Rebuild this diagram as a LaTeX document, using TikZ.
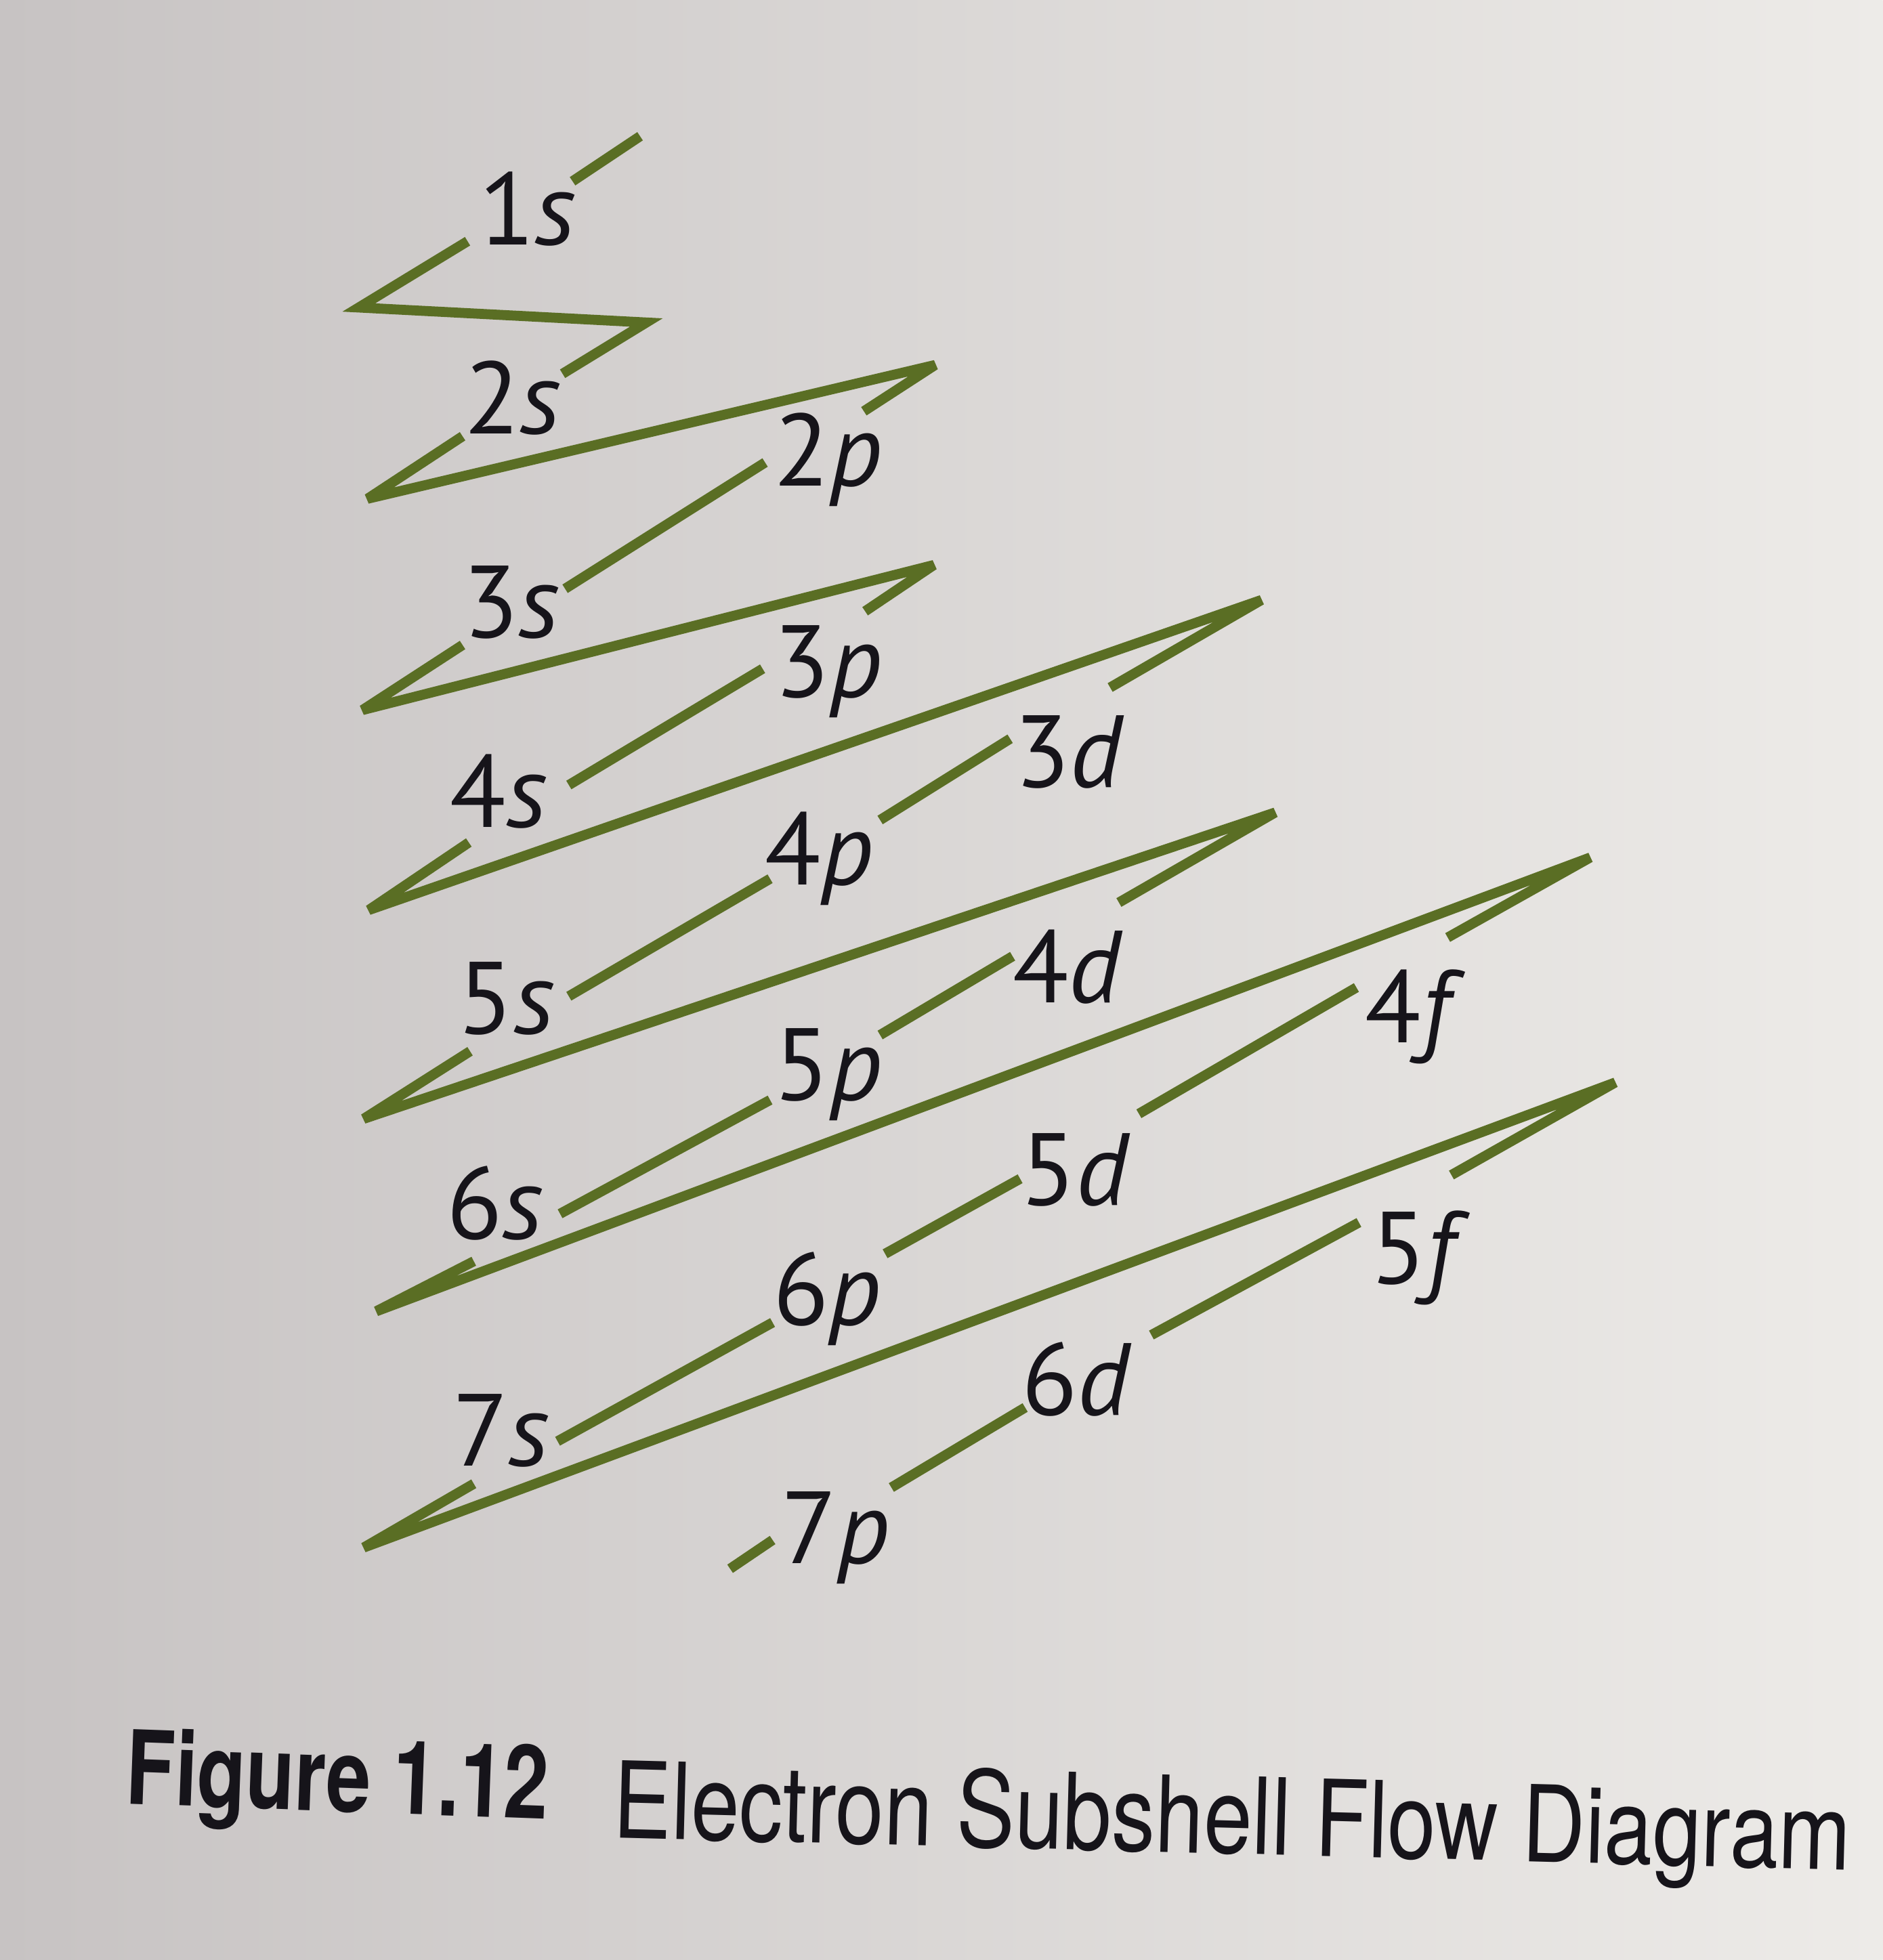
\documentclass[tikz,border=0pt]{standalone}
\usepackage{fontspec}
\setmainfont{PT Sans}
\newfontfamily\capfont{TeX Gyre Heros}
\definecolor{strokegreen}{RGB}{90,110,36}
\definecolor{paperL}{RGB}{199,195,195}
\definecolor{paperR}{RGB}{237,235,232}
\definecolor{ink}{RGB}{22,20,26}
\begin{document}
\begin{tikzpicture}[x=1pt,y=-1pt,
  flow/.style={draw=strokegreen, line width=8pt, line cap=butt, line join=miter, miter limit=4},
  sub/.style={font=\fontsize{82}{90}\selectfont, text=ink, inner sep=0pt, anchor=base west},
  capbold/.style={font=\capfont\bfseries\fontsize{82}{90}\selectfont, text=ink, inner sep=0pt, anchor=base west},
  capreg/.style={font=\capfont\fontsize{85}{90}\selectfont, text=ink, inner sep=0pt, anchor=base west}]
\useasboundingbox (0,0) rectangle (1506,1568);
\shade[left color=paperL,right color=paperR] (0,0) rectangle (1506,1568);

% subshell labels
\node[sub] (s1) at (383,196) {1\textit{s}};
\node[sub] (s2) at (371,347) {2\textit{s}};
\node[sub] (p2) at (619,389) {2\textit{p}};
\node[sub] (s3) at (370,510) {3\textit{s}};
\node[sub] (p3) at (619,558) {3\textit{p}};
\node[sub] (s4) at (360,662) {4\textit{s}};
\node[sub] (d3) at (811,630) {3\textit{d}};
\node[sub] (p4) at (612,708) {4\textit{p}};
\node[sub] (s5) at (366,827) {5\textit{s}};
\node[sub] (d4) at (810,802) {4\textit{d}};
\node[sub] (p5) at (619,880) {5\textit{p}};
\node[sub] (s6) at (357,991) {6\textit{s}};
\node[sub] (f4) at (1092,834) {4\textit{f}};
\node[sub] (d5) at (816,964) {5\textit{d}};
\node[sub] (p6) at (618,1060) {6\textit{p}};
\node[sub] (s7) at (362,1173) {7\textit{s}};
\node[sub] (f5) at (1096,1027) {5\textit{f}};
\node[sub] (d6) at (817,1132) {6\textit{d}};
\node[sub] (p7) at (625,1251) {7\textit{p}};

% path vertices
\coordinate (p1a) at (512,109);  \coordinate (p1b) at (458,145);
\coordinate (p2a) at (374,193);  \coordinate (L1) at (287,246);  \coordinate (R2) at (517,258);  \coordinate (p2b) at (450,299);
\coordinate (p3a) at (370,349);  \coordinate (L2) at (294,399);  \coordinate (R3) at (748,292);  \coordinate (p3b) at (691,329);
\coordinate (p4a) at (612,370);  \coordinate (p4b) at (452,471);
\coordinate (p5a) at (370,516);  \coordinate (L3) at (290,568);  \coordinate (R4) at (747,452);  \coordinate (p5b) at (692,489);
\coordinate (p6a) at (610,535);  \coordinate (p6b) at (455,628);
\coordinate (p7a) at (375,674);  \coordinate (L4) at (295,728);  \coordinate (R5) at (1009,480); \coordinate (p7b) at (888,550);
\coordinate (p8a) at (808,591);  \coordinate (p8b) at (704,656);
\coordinate (p9a) at (616,703);  \coordinate (p9b) at (455,797);
\coordinate (p10a) at (376,841); \coordinate (L5) at (291,895);  \coordinate (R6) at (1020,650); \coordinate (p10b) at (895,722);
\coordinate (p11a) at (810,765); \coordinate (p11b) at (704,828);
\coordinate (p12a) at (616,880); \coordinate (p12b) at (448,971);
\coordinate (p13a) at (379,1009); \coordinate (L6) at (301,1049); \coordinate (R7) at (1272,686); \coordinate (p13b) at (1158,750);
\coordinate (p14a) at (1085,790); \coordinate (p14b) at (911,891);
\coordinate (p15a) at (816,943); \coordinate (p15b) at (708,1003);
\coordinate (p16a) at (618,1058); \coordinate (p16b) at (446,1153);
\coordinate (p17a) at (379,1187); \coordinate (L7) at (291,1238); \coordinate (R8) at (1292,866); \coordinate (p17b) at (1161,940);
\coordinate (p18a) at (1087,978); \coordinate (p18b) at (921,1068);
\coordinate (p19a) at (820,1126); \coordinate (p19b) at (713,1190);
\coordinate (p20a) at (618,1232); \coordinate (p20b) at (584,1255);

% flow strokes
\draw[flow] (p1a) -- (p1b);
\draw[flow] (p2a) -- (L1) -- (R2) -- (p2b);
\draw[flow] (p3a) -- (L2) -- (R3) -- (p3b);
\draw[flow] (p4a) -- (p4b);
\draw[flow] (p5a) -- (L3) -- (R4) -- (p5b);
\draw[flow] (p6a) -- (p6b);
\draw[flow] (p7a) -- (L4) -- (R5) -- (p7b);
\draw[flow] (p8a) -- (p8b);
\draw[flow] (p9a) -- (p9b);
\draw[flow] (p10a) -- (L5) -- (R6) -- (p10b);
\draw[flow] (p11a) -- (p11b);
\draw[flow] (p12a) -- (p12b);
\draw[flow] (p13a) -- (L6) -- (R7) -- (p13b);
\draw[flow] (p14a) -- (p14b);
\draw[flow] (p15a) -- (p15b);
\draw[flow] (p16a) -- (p16b);
\draw[flow] (p17a) -- (L7) -- (R8) -- (p17b);
\draw[flow] (p18a) -- (p18b);
\draw[flow] (p19a) -- (p19b);
\draw[flow] (p20a) -- (p20b);

% caption
\node[capbold, rotate=-2.1] (capnum) at (100,1443) {\scalebox{0.78}[1]{Figure 1.12}};
\node[capreg, rotate=-1.5] (captext) at (490,1470) {\scalebox{0.82}[1]{Electron Subshell Flow Diagram}};
\end{tikzpicture}
\end{document}
